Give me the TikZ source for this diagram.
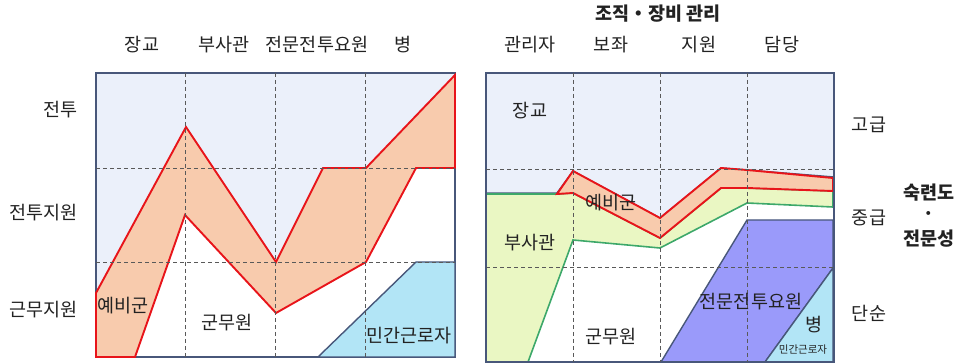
\documentclass[tikz,border=0pt]{standalone}
\usepackage{fontspec}
\setmainfont{Noto Sans CJK KR}
\usetikzlibrary{positioning}

\definecolor{lav}{HTML}{EBF0FA}
\definecolor{peach}{HTML}{F8CBAD}
\definecolor{redline}{HTML}{E8141A}
\definecolor{sky}{HTML}{B2E5F6}
\definecolor{lime}{HTML}{EAF7C3}
\definecolor{greenline}{HTML}{3DA86A}
\definecolor{violet}{HTML}{9A9AFA}
\definecolor{navy}{HTML}{48577A}
\definecolor{ink}{HTML}{222222}

\tikzstyle{frame} = [draw=navy, line width=1.7pt]
\tikzstyle{grid} = [draw=ink!75, line width=0.9pt, dash pattern=on 4pt off 3pt]
\tikzstyle{band} = [fill=peach, draw=redline, line width=1.9pt, line join=miter]
\tikzstyle{nco} = [fill=lime, draw=greenline, line width=1.6pt]
\tikzstyle{civil} = [fill=sky, draw=navy, line width=1.4pt]
\tikzstyle{expert} = [fill=violet, draw=navy, line width=1.4pt]
\tikzstyle{label} = [text=ink, inner sep=0pt, font=\fontsize{18.5}{21}\selectfont]
\tikzstyle{small} = [text=ink, inner sep=0pt, font=\fontsize{10.5}{12}\selectfont]

\begin{document}
\begin{tikzpicture}
    [x=1pt, y=-1pt, node distance = 23pt]
  \useasboundingbox (0,0) rectangle (959,363);

  \fill[lav] (96,73) -- (455,73) -- (455,75) -- (366,168) -- (323,168) -- (276,262)
    -- (186,127) -- (96,293) -- cycle;
  \draw[frame] (96,73) rectangle (455,357);
  \filldraw[band] (96,293) -- (186,127) -- (276,262) -- (323,168) -- (366,168)
    -- (455,75) -- (455,168) -- (416,168) -- (366,262) -- (276,313) -- (185,215)
    -- (135,357) -- (96,357) -- cycle;
  \filldraw[civil] (318,357) -- (416,262) -- (455,262) -- (455,357) -- cycle;
  \foreach \x in {185,275,365} \draw[grid] (\x,73) -- (\x,357);
  \foreach \y in {168,262} \draw[grid] (96,\y) -- (455,\y);

  \node[label] (A) at (142,45) {장교};
  \node[label] (B) at (224,45) {부사관};
  \node[label] (C) at (317,45) {전문전투요원};
  \node[label] (D) at (403,45) {병};
  \node[label, anchor=east] (E) at (78,110) {전투};
  \node[label, anchor=east] (F) at (78,213) {전투지원};
  \node[label, anchor=east] (G) at (78,310) {근무지원};
  \node[label] (H) at (123,306) {예비군};
  \node[label] (I) at (227,323) {군무원};
  \node[label] (J) at (409,336) {민간근로자};

  \filldraw[lav, draw=navy, line width=1.4pt] (486,73) -- (834,73) -- (834,177)
    -- (747,170) -- (721,168) -- (660,218) -- (573,171) -- (557,193) -- (486,193) -- cycle;
  \filldraw[nco] (486,194) -- (557,194) -- (573,193) -- (660,238) -- (721,188)
    -- (747,188) -- (833,191) -- (833,207) -- (747,203) -- (660,248) -- (573,240)
    -- (528,362) -- (486,362) -- cycle;
  \filldraw[band] (557,194) -- (573,171) -- (660,218) -- (721,168) -- (747,170)
    -- (833,178) -- (833,191) -- (747,188) -- (721,188) -- (660,238) -- (573,193) -- cycle;
  \filldraw[expert] (661,362) -- (747,220) -- (833,220) -- (833,268) -- (765,362) -- cycle;
  \filldraw[civil] (765,362) -- (833,268) -- (833,362) -- cycle;
  \draw[frame] (486,73) rectangle (834,362);
  \foreach \x in {573,660,747} \draw[grid] (\x,73) -- (\x,362);
  \foreach \y in {169,267} \draw[grid] (486,\y) -- (834,\y);

  \node[label, font=\fontsize{18.5}{21}\selectfont\bfseries] (K) at (658,14) {조직・장비 관리};
  \node[label] (L) at (530,45) {관리자};
  \node[label] (M) at (611,45) {보좌};
  \node[label] (N) at (699,45) {지원};
  \node[label] (O) at (782,45) {담당};
  \node[label] (P) at (530,111) {장교};
  \node[label] (Q) at (611,203) {예비군};
  \node[label] (R) at (530,243) {부사관};
  \node[label] (S) at (751,302) {전문전투요원};
  \node[label] (T) at (611,337) {군무원};
  \node[label] (U) at (814,325) {병};
  \node[small] (V) at (803,350) {민간근로자};
  \node[label] (W) at (869,125) {고급};
  \node[label] (X) at (869,218) {중급};
  \node[label] (Y) at (869,313) {단순};
  \node[label, font=\fontsize{18.5}{21}\selectfont\bfseries] (Z) at (929,193) {숙련도};
  \node[label, below of=Z] (Z1) {・};
  \node[label, font=\fontsize{18.5}{21}\selectfont\bfseries, below of=Z1] (Z2) {전문성};
\end{tikzpicture}
\end{document}
